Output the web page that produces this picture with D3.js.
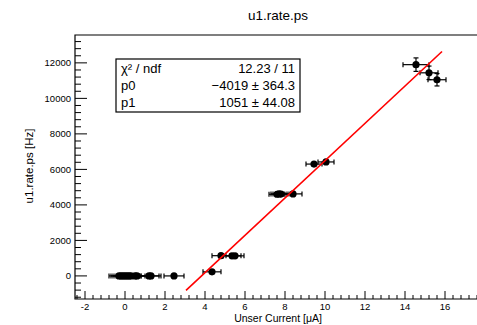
<!DOCTYPE html>
<html>
<head>
<meta charset="utf-8">
<script src="https://cdn.jsdelivr.net/npm/d3@7"></script>
<style>
  body { margin: 0; background: #fff; }
  svg { display: block; font-family: "Liberation Sans", Arial, sans-serif; }
</style>
</head>
<body>
<svg width="477" height="325"></svg>
<script>
const title = 'u1.rate.ps';
const xTitle = 'Unser Current [\u03bcA]';
const yTitle = 'u1.rate.ps [Hz]';

// measured points
const current = [-0.3, -0.2, -0.1, 0.0, 0.1, 0.2, 0.3, 0.5, 0.6, 1.2, 1.3, 2.45,
                 4.35, 4.8, 5.35, 5.5, 7.6, 7.7, 7.8, 8.4, 9.45, 10.05, 14.55, 15.2, 15.6];
const rate = [0, 0, 0, 0, 0, 0, 0, 0, 0, 0, 0, 0,
              230, 1140, 1130, 1130, 4600, 4620, 4610, 4620, 6300, 6420, 11900, 11440, 11050];
const currentErr = [0.5, 0.5, 0.5, 0.5, 0.5, 0.5, 0.5, 0.5, 0.5, 0.5, 0.5, 0.5,
                    0.45, 0.45, 0.45, 0.45, 0.4, 0.4, 0.4, 0.45, 0.4, 0.4, 0.65, 0.45, 0.45];
const rateErr = [30, 30, 30, 30, 30, 30, 30, 30, 30, 30, 30, 30,
                 60, 80, 80, 80, 120, 120, 120, 120, 150, 150, 380, 380, 350];

// fit result
const statLabels = ['\u03c7\u00b2 / ndf', 'p0', 'p1'];
const statValues = ['12.23 / 11', '\u22124019 \u00b1 364.3', '1051 \u00b1 44.08'];
const p0 = -4019, p1 = 1051;
const fitRange = [3.05, 15.85];

const xTicks = [-2, 0, 2, 4, 6, 8, 10, 12, 14, 16];
const yTicks = [0, 2000, 4000, 6000, 8000, 10000, 12000];

const svg = d3.select('svg');
const frame = {left: 75, right: 485, top: 35, bottom: 299};

const x = d3.scaleLinear().domain([-2.5, 18]).range([frame.left, frame.right]);
const y = d3.scaleLinear().domain([-1300, 13570]).range([frame.bottom, frame.top]);

// title
svg.append('text')
    .attr('x', 278).attr('y', 20)
    .attr('text-anchor', 'middle')
    .attr('font-size', 13.5)
    .text(title);

// frame lines
svg.append('path')
    .attr('d', `M${frame.right},${frame.top}H${frame.left}V${frame.bottom}H${frame.right}`)
    .attr('fill', 'none').attr('stroke', '#000').attr('stroke-width', 1.2);

// x axis ticks
const xMinor = d3.range(-2.4, 18, 0.4).map(v => +v.toFixed(1));
svg.append('g').selectAll('line').data(xMinor).join('line')
    .attr('x1', d => x(d)).attr('x2', d => x(d))
    .attr('y1', frame.bottom)
    .attr('y2', d => frame.bottom - (xTicks.includes(Math.round(d * 10) / 10) ? 8 : 4))
    .attr('stroke', '#000');
svg.append('g').selectAll('text').data(xTicks).join('text')
    .attr('x', d => x(d)).attr('y', 310)
    .attr('text-anchor', 'middle').attr('font-size', 9.5)
    .text(d => d);

// y axis ticks
const yMinor = d3.range(-1200, 13600, 400);
svg.append('g').selectAll('line').data(yMinor).join('line')
    .attr('x1', frame.left)
    .attr('x2', d => frame.left + (d % 2000 === 0 ? 12 : 6))
    .attr('y1', d => y(d)).attr('y2', d => y(d))
    .attr('stroke', '#000');
svg.append('g').selectAll('text').data(yTicks).join('text')
    .attr('x', 71).attr('y', d => y(d) + 3.5)
    .attr('text-anchor', 'end').attr('font-size', 9.5)
    .text(d => d);

// axis titles
svg.append('text')
    .attr('x', 278).attr('y', 322)
    .attr('text-anchor', 'middle').attr('font-size', 10.5)
    .text(xTitle);
svg.append('text')
    .attr('transform', 'translate(33,166) rotate(-90)')
    .attr('text-anchor', 'middle').attr('font-size', 11.5)
    .text(yTitle);

// data with error bars
const pts = current.map((c, i) => ({x: c, y: rate[i], ex: currentErr[i], ey: rateErr[i]}));
const g = svg.append('g').attr('stroke', '#000').attr('stroke-width', 1.2);
pts.forEach(p => {
  const cx = x(p.x), cy = y(p.y);
  const x0 = x(p.x - p.ex), x1 = x(p.x + p.ex);
  const y0 = y(p.y - p.ey), y1 = y(p.y + p.ey);
  g.append('line').attr('x1', x0).attr('x2', x1).attr('y1', cy).attr('y2', cy);
  g.append('line').attr('x1', x0).attr('x2', x0).attr('y1', cy - 2.5).attr('y2', cy + 2.5);
  g.append('line').attr('x1', x1).attr('x2', x1).attr('y1', cy - 2.5).attr('y2', cy + 2.5);
  if (cy - y1 > 4) {
    g.append('line').attr('x1', cx).attr('x2', cx).attr('y1', y0).attr('y2', y1);
    g.append('line').attr('x1', cx - 2.5).attr('x2', cx + 2.5).attr('y1', y0).attr('y2', y0);
    g.append('line').attr('x1', cx - 2.5).attr('x2', cx + 2.5).attr('y1', y1).attr('y2', y1);
  }
});
svg.append('g').selectAll('circle').data(pts).join('circle')
    .attr('cx', d => x(d.x)).attr('cy', d => y(d.y))
    .attr('r', 3.6).attr('fill', '#000');

// fit line
svg.append('line')
    .attr('x1', x(fitRange[0])).attr('y1', y(p0 + p1 * fitRange[0]))
    .attr('x2', x(fitRange[1])).attr('y2', y(p0 + p1 * fitRange[1]))
    .attr('stroke', '#f00').attr('stroke-width', 1.6);

// stats box
const box = {x: 116, y: 59, w: 184, h: 53};
svg.append('rect')
    .attr('x', box.x).attr('y', box.y).attr('width', box.w).attr('height', box.h)
    .attr('fill', '#fff').attr('stroke', '#000').attr('stroke-width', 1.2);
statLabels.forEach((s, i) => {
  svg.append('text').attr('x', box.x + 5).attr('y', box.y + 14 + i * 17)
      .attr('font-size', 13).text(s);
  svg.append('text').attr('x', box.x + box.w - 5).attr('y', box.y + 14 + i * 17)
      .attr('font-size', 13).attr('text-anchor', 'end').text(statValues[i]);
});
</script>
</body>
</html>
